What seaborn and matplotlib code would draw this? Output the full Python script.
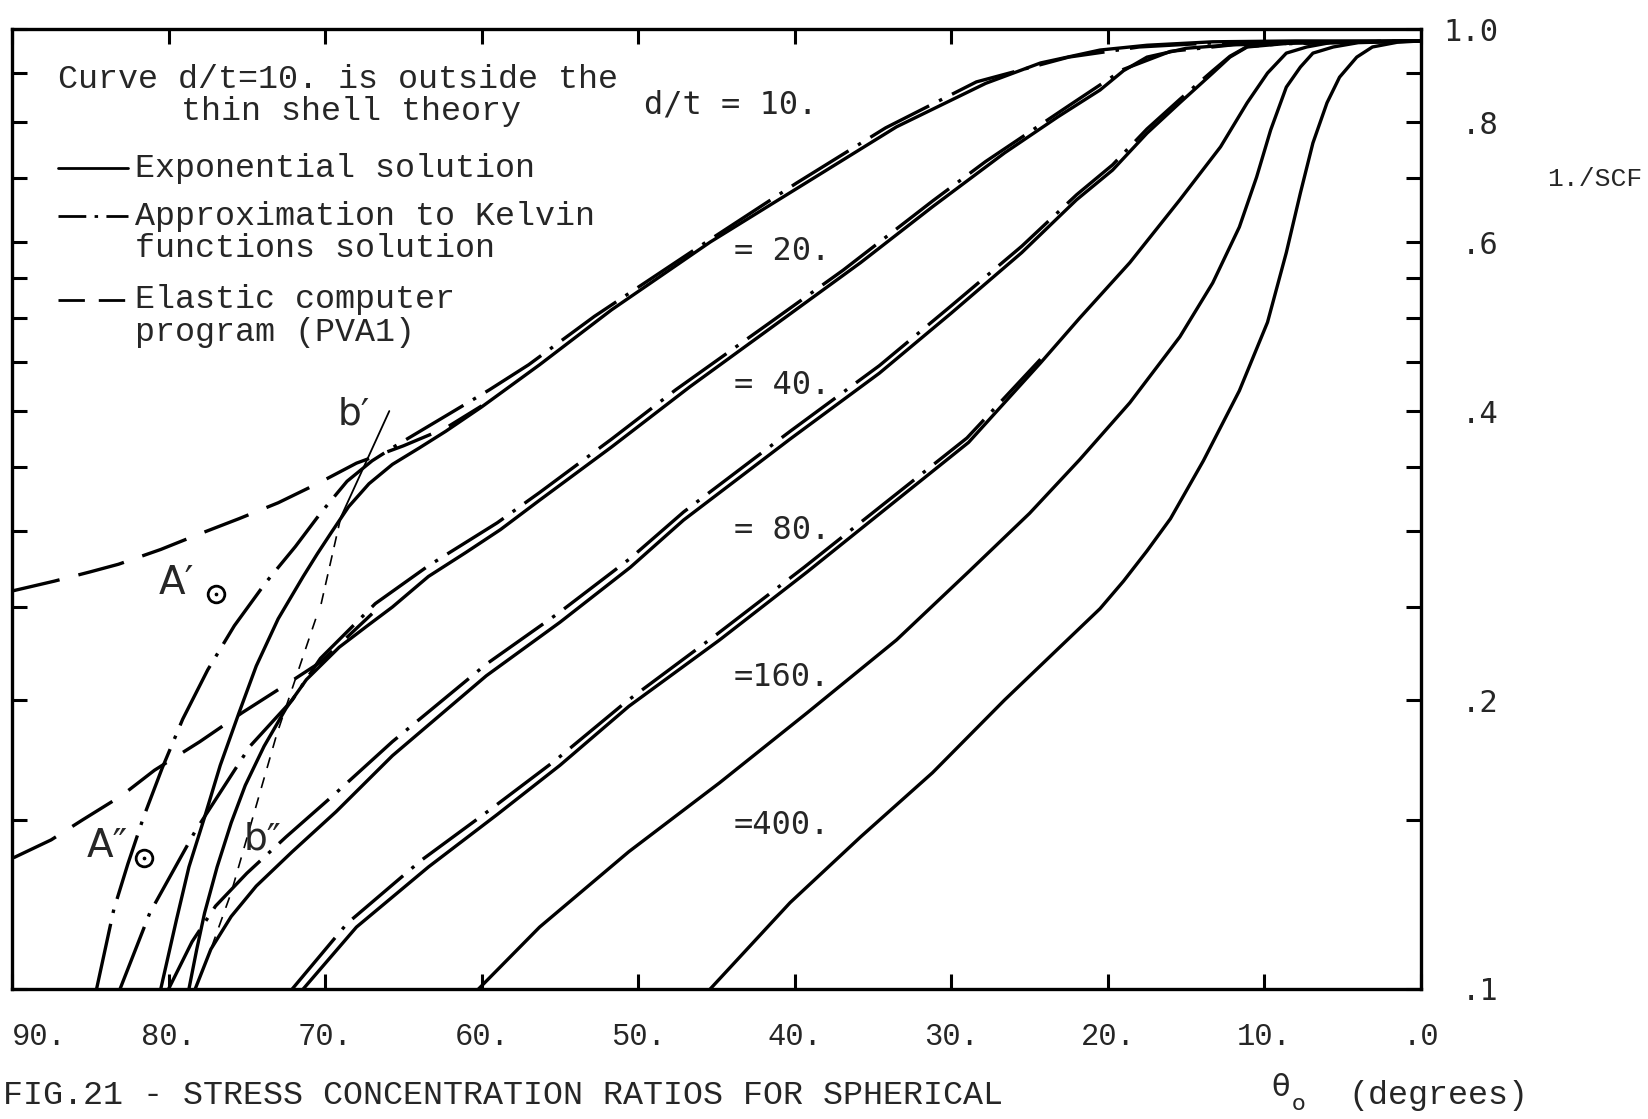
import matplotlib
matplotlib.use('Agg')
import matplotlib.pyplot as plt
from matplotlib.ticker import FixedLocator, NullLocator
import seaborn as sns

# theta_o in degrees (x) and 1./SCF (y)

# exponential solution (solid)
deg_exp_10 = [80.5, 79.5, 78.7, 77.7, 76.7, 75.5, 74.4, 73.0, 71.4, 70.5, 69.6, 68.5, 67.2, 65.7, 64.0,
              62.3, 60.0, 56.3, 51.7, 45.4, 38.7, 33.5, 27.8, 24.3, 20.5, 17.5, 13.3, 8.0, 0.0]
scf_exp_10 = [0.100, 0.118, 0.134, 0.151, 0.171, 0.194, 0.217, 0.243, 0.269, 0.284, 0.299, 0.318, 0.336, 0.352, 0.366,
              0.381, 0.404, 0.447, 0.510, 0.600, 0.701, 0.791, 0.878, 0.922, 0.951, 0.962, 0.970, 0.972, 0.972]

deg_exp_20 = [78.7, 78.2, 77.7, 76.9, 76.0, 75.1, 73.9, 72.5, 71.2, 69.1, 67.3, 65.7, 63.4, 61.0, 58.8, 56.3,
              51.7, 46.7, 41.7, 35.8, 31.2, 26.6, 23.2, 20.5, 19.0, 17.5, 15.0, 11.5, 0.0]
scf_exp_20 = [0.100, 0.110, 0.120, 0.134, 0.149, 0.163, 0.179, 0.196, 0.210, 0.227, 0.239, 0.250, 0.269, 0.285, 0.301, 0.323,
              0.367, 0.424, 0.486, 0.571, 0.653, 0.743, 0.810, 0.864, 0.905, 0.935, 0.955, 0.965, 0.972]

deg_exp_40 = [78.3, 77.3, 76.0, 74.4, 72.1, 69.3, 65.7, 59.7, 55.0, 50.5, 47.1, 40.3, 34.6, 30.0,
              25.5, 22.0, 19.7, 17.5, 15.4, 13.3, 12.2, 11.1, 8.0, 0.0]
scf_exp_40 = [0.100, 0.110, 0.119, 0.128, 0.139, 0.153, 0.175, 0.212, 0.241, 0.275, 0.308, 0.374, 0.438, 0.506,
              0.585, 0.664, 0.713, 0.779, 0.838, 0.900, 0.935, 0.958, 0.968, 0.972]

deg_exp_80 = [71.4, 68.0, 63.4, 59.0, 55.0, 50.6, 44.8, 39.2, 33.5, 28.9, 24.3, 21.8, 18.6, 15.4,
              12.8, 11.1, 9.8, 8.6, 7.3, 5.8, 0.0]
scf_exp_80 = [0.100, 0.116, 0.134, 0.152, 0.171, 0.197, 0.231, 0.272, 0.323, 0.371, 0.449, 0.500, 0.571, 0.664,
              0.754, 0.838, 0.900, 0.944, 0.958, 0.968, 0.972]

deg_exp_160 = [60.2, 56.3, 50.6, 44.8, 39.2, 33.5, 28.9, 25.0, 21.8, 18.6, 15.4, 13.3, 11.6, 10.5,
               9.6, 8.6, 7.7, 6.9, 5.6, 4.0, 0.0]
scf_exp_160 = [0.100, 0.116, 0.139, 0.164, 0.194, 0.231, 0.272, 0.313, 0.356, 0.408, 0.478, 0.544, 0.622, 0.701,
               0.785, 0.870, 0.913, 0.944, 0.958, 0.968, 0.972]

deg_exp_400 = [45.4, 40.3, 35.8, 31.2, 26.6, 23.2, 20.5, 19.0, 17.5, 16.0, 13.9, 11.6, 9.8, 8.6, 7.7,
               6.9, 6.0, 5.2, 4.1, 3.1, 1.5, 0.0]
scf_exp_400 = [0.100, 0.123, 0.144, 0.168, 0.200, 0.226, 0.249, 0.266, 0.286, 0.309, 0.355, 0.420, 0.495, 0.585, 0.675,
               0.761, 0.838, 0.891, 0.935, 0.958, 0.969, 0.972]

# approximation to Kelvin functions solution (dash-dot)
deg_kel_10 = [84.6, 83.5, 82.6, 81.6, 80.4, 79.1, 77.5, 75.8, 73.8, 71.9, 70.3, 68.6, 67.0, 65.5, 62.0,
              59.5, 57.0, 52.8, 46.2, 39.9, 34.2, 28.4, 22.5, 18.0, 13.0, 0.0]
scf_kel_10 = [0.100, 0.121, 0.135, 0.151, 0.170, 0.191, 0.215, 0.239, 0.265, 0.289, 0.313, 0.338, 0.355, 0.368, 0.398,
              0.421, 0.447, 0.502, 0.592, 0.691, 0.789, 0.881, 0.935, 0.958, 0.968, 0.972]

deg_kel_20 = [83.1, 81.2, 78.3, 74.8, 72.1, 70.3, 66.8, 63.4, 59.0, 56.3, 51.7, 47.6, 41.7, 36.9,
              31.2, 27.8, 22.5, 19.0, 16.0, 12.0, 0.0]
scf_kel_20 = [0.100, 0.120, 0.146, 0.179, 0.200, 0.221, 0.252, 0.276, 0.306, 0.329, 0.374, 0.421, 0.493, 0.561,
              0.662, 0.728, 0.832, 0.908, 0.948, 0.963, 0.972]

deg_kel_40 = [80.0, 78.5, 77.0, 75.0, 72.5, 69.5, 65.7, 59.7, 55.0, 50.5, 47.1, 40.3, 34.6, 30.0,
              25.5, 22.0, 19.7, 17.5, 15.4, 13.3, 12.2, 11.1, 8.0, 0.0]
scf_kel_40 = [0.100, 0.112, 0.122, 0.132, 0.144, 0.159, 0.181, 0.218, 0.247, 0.281, 0.314, 0.381, 0.446, 0.515,
              0.594, 0.672, 0.722, 0.787, 0.845, 0.905, 0.937, 0.959, 0.968, 0.972]

deg_kel_80 = [72.1, 68.6, 63.9, 59.4, 55.3, 50.8, 45.0, 39.4, 33.7, 29.0, 24.3]
scf_kel_80 = [0.100, 0.117, 0.136, 0.154, 0.173, 0.199, 0.234, 0.275, 0.326, 0.375, 0.453]

# elastic computer program PVA1 (dashed)
deg_pva_10 = [89.9, 87.3, 85.0, 83.2, 80.5, 78.0, 75.5, 73.0, 70.5, 68.0, 65.0, 62.3, 60.0]
scf_pva_10 = [0.260, 0.266, 0.272, 0.277, 0.287, 0.298, 0.309, 0.321, 0.336, 0.353, 0.368, 0.384, 0.405]

deg_pva_20 = [89.9, 87.5, 85.5, 83.0, 80.9, 78.0, 75.3, 72.8, 70.3, 67.0]
scf_pva_20 = [0.137, 0.143, 0.150, 0.159, 0.169, 0.181, 0.194, 0.206, 0.219, 0.246]

# thin construction lines b' and b''
deg_b1 = [65.9, 69.0]
scf_b1 = [0.400, 0.310]
deg_b1d = [69.0, 70.3]
scf_b1d = [0.310, 0.250]
deg_b2 = [70.6, 73.1, 76.0, 77.3]
scf_b2 = [0.243, 0.184, 0.126, 0.110]

# points A' and A''
deg_pts = [77.0, 81.6]
scf_pts = [0.258, 0.137]

x_ticks = [90, 80, 70, 60, 50, 40, 30, 20, 10, 0]
x_labels = ['90.', '80.', '70.', '60.', '50.', '40.', '30.', '20.', '10.', '.0']
y_ticks = [0.1, 0.15, 0.2, 0.25, 0.3, 0.35, 0.4, 0.45, 0.5, 0.55, 0.6, 0.7, 0.8, 0.9, 1.0]
y_labels = ['.1', '', '.2', '', '', '', '.4', '', '', '', '.6', '', '.8', '', '1.0']

dt_labels = ['d/t = 10.', '= 20.', '= 40.', '= 80.', '=160.', '=400.']
dt_label_deg = [49.6, 43.9, 43.9, 43.9, 43.9, 43.9]
dt_label_scf = [0.834, 0.586, 0.425, 0.300, 0.211, 0.148]

sns.set_theme(style='white')
plt.rcParams['font.family'] = ['Liberation Mono', 'DejaVu Sans']
plt.rcParams['lines.scale_dashes'] = False

fig = plt.figure(figsize=(16.49, 11.19), dpi=100)
ax = fig.add_axes([0.0073, 0.1162, 0.8544, 0.8578])

LW = 2.4
DASHDOT = (0, (48, 8, 2.5, 8))
DASHED = (0, (34, 14))

curves = [
    (deg_exp_10, scf_exp_10, '-'), (deg_exp_20, scf_exp_20, '-'), (deg_exp_40, scf_exp_40, '-'),
    (deg_exp_80, scf_exp_80, '-'), (deg_exp_160, scf_exp_160, '-'), (deg_exp_400, scf_exp_400, '-'),
    (deg_kel_10, scf_kel_10, DASHDOT), (deg_kel_20, scf_kel_20, DASHDOT),
    (deg_kel_40, scf_kel_40, DASHDOT), (deg_kel_80, scf_kel_80, DASHDOT),
    (deg_pva_10, scf_pva_10, DASHED), (deg_pva_20, scf_pva_20, DASHED),
]
for xs, ys, ls in curves:
    sns.lineplot(x=xs, y=ys, ax=ax, color='black', linewidth=LW, linestyle=ls,
                 sort=False, estimator=None)

sns.lineplot(x=deg_b1, y=scf_b1, ax=ax, color='black', linewidth=1.3, sort=False, estimator=None)
sns.lineplot(x=deg_b1d, y=scf_b1d, ax=ax, color='black', linewidth=1.2, linestyle=(0, (8, 6)),
             sort=False, estimator=None)
sns.lineplot(x=deg_b2, y=scf_b2, ax=ax, color='black', linewidth=1.2, linestyle=(0, (8, 7)),
             sort=False, estimator=None)

sns.lineplot(x=deg_pts, y=scf_pts, ax=ax, color='black', linestyle='none', marker='o',
             markersize=12, markerfacecolor='none', markeredgecolor='black', markeredgewidth=2,
             estimator=None, sort=False)
sns.lineplot(x=deg_pts, y=scf_pts, ax=ax, color='black', linestyle='none', marker='o',
             markersize=3.5, estimator=None, sort=False)

ax.set_yscale('log')
ax.set_xlim(90, 0)
ax.set_ylim(0.1, 1.0)
ax.set_xticks(x_ticks)
ax.set_xticklabels(x_labels, fontsize=22, family=['Liberation Mono'])
ax.yaxis.set_major_locator(FixedLocator(y_ticks))
ax.yaxis.set_minor_locator(NullLocator())
ax.set_yticks(y_ticks)
ax.set_yticklabels(y_labels, fontsize=22, family=['DejaVu Sans Mono'])
ax.set_xlabel('')
ax.set_ylabel('')

ax.tick_params(axis='both', which='both', direction='in', length=11, width=2.2, color='black',
               top=True, bottom=True, left=True, right=True)
ax.tick_params(axis='x', pad=24)
ax.tick_params(axis='y', labelleft=False, labelright=True, pad=56)
for tk in ax.yaxis.get_major_ticks():
    tk.label2.set_horizontalalignment('right')
# keep the leftmost label inside the canvas
ax.xaxis.get_major_ticks()[0].label1.set_horizontalalignment('left')

for sp in ax.spines.values():
    sp.set_color('black')
    sp.set_linewidth(2.4)

# curve labels
for txt, xd, yd in zip(dt_labels, dt_label_deg, dt_label_scf):
    ax.text(xd, yd, txt, fontsize=23, family=['DejaVu Sans Mono'], ha='left', va='center')

# handwritten point / line labels
ax.text(79.5, 0.265, 'A\u2032', fontsize=28, family=['DejaVu Sans'], ha='center', va='center')
ax.text(83.9, 0.141, 'A\u2033', fontsize=28, family=['DejaVu Sans'], ha='center', va='center')
ax.text(68.2, 0.397, 'b\u2032', fontsize=27, family=['DejaVu Sans'], ha='center', va='center')
ax.text(74.0, 0.143, 'b\u2033', fontsize=27, family=['DejaVu Sans'], ha='center', va='center')

# key drawn inside the plot
ax.text(0.0326, 0.948, 'Curve d/t=10. is outside the', transform=ax.transAxes,
        fontsize=24, ha='left', va='center')
ax.text(0.120, 0.914, 'thin shell theory', transform=ax.transAxes,
        fontsize=24, ha='left', va='center')
ax.plot([0.0326, 0.0825], [0.855, 0.855], transform=ax.transAxes, color='black', lw=2)
ax.plot([0.0326, 0.0825], [0.805, 0.805], transform=ax.transAxes, color='black', lw=2,
        linestyle=(0, (20, 6, 2.5, 6)))
ax.plot([0.0326, 0.0825], [0.718, 0.718], transform=ax.transAxes, color='black', lw=2,
        linestyle=(0, (19, 10)))
ax.text(0.087, 0.855, 'Exponential solution', transform=ax.transAxes, fontsize=24, ha='left', va='center')
ax.text(0.087, 0.805, 'Approximation to Kelvin', transform=ax.transAxes, fontsize=24, ha='left', va='center')
ax.text(0.087, 0.771, 'functions solution', transform=ax.transAxes, fontsize=24, ha='left', va='center')
ax.text(0.087, 0.718, 'Elastic computer', transform=ax.transAxes, fontsize=24, ha='left', va='center')
ax.text(0.087, 0.684, 'program (PVA1)', transform=ax.transAxes, fontsize=24, ha='left', va='center')

# outer labels
fig.text(0.9385, 0.840, '1./SCF', fontsize=19, ha='left', va='center')
fig.text(0.7768, 0.028, '\u03b8', fontsize=22, family=['DejaVu Sans'], ha='center', va='center')
fig.text(0.7835, 0.013, 'o', fontsize=16, family=['DejaVu Sans'], ha='left', va='center')
fig.text(0.8175, 0.021, '(degrees)', fontsize=24, ha='left', va='center')
fig.text(0.002, 0.021, 'FIG.21 - STRESS CONCENTRATION RATIOS FOR SPHERICAL', fontsize=24,
         ha='left', va='center')

fig.savefig('out.png', dpi=100)
